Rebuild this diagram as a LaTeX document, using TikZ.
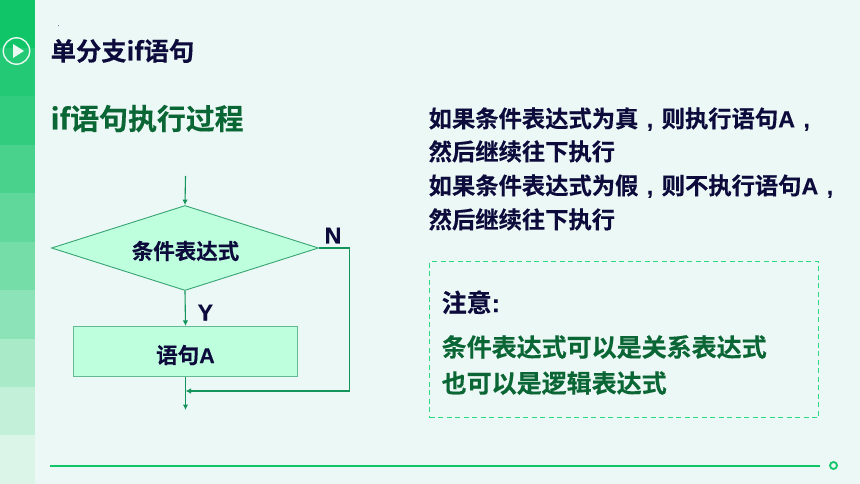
\documentclass[tikz,border=0pt]{standalone}
\usepackage{fontspec}
\setmainfont{Noto Sans CJK SC}[BoldFont={* Bold},BoldFeatures={FakeBold=0.25}]
\newfontfamily\lat{Liberation Sans Bold}[FakeBold=0.15]
\usetikzlibrary{shapes.geometric,arrows.meta}
\definecolor{bgc}{HTML}{ECF8F5}
\definecolor{navy}{HTML}{0D0A3C}
\definecolor{dgreen}{HTML}{0B6635}
\definecolor{lnc}{HTML}{12945A}
\definecolor{fillc}{HTML}{BEFFDE}
\definecolor{barc}{HTML}{10C468}
\definecolor{dashc}{HTML}{2BD97F}
\tikzset{
 txt/.style={anchor=base west,inner sep=0pt,font=\bfseries},
 flow/.style={draw=lnc,line width=1.1pt,-{Latex[length=5.5pt,width=5.5pt]}},
}
\newcommand{\fs}[1]{\fontsize{#1pt}{#1pt}\selectfont}
\newcommand{\cm}{\makebox[1em]{\lat ,}}
\begin{document}
\begin{tikzpicture}[x=1pt,y=-1pt]
\useasboundingbox (0,0) rectangle (860,484);
\fill[bgc] (0,0) rectangle (860,484);
% side bands
\fill[barc!100!white] (0,0) rectangle (35,48);
\fill[barc!92!white] (0,48) rectangle (35,96);
\fill[barc!86!white] (0,96) rectangle (35,145);
\fill[barc!76!white] (0,145) rectangle (35,193);
\fill[barc!66!white] (0,193) rectangle (35,242);
\fill[barc!58!white] (0,242) rectangle (35,290);
\fill[barc!48!white] (0,290) rectangle (35,339);
\fill[barc!36!white] (0,339) rectangle (35,387);
\fill[barc!25!white] (0,387) rectangle (35,435);
\fill[barc!15!white] (0,435) rectangle (35,484);
% play icon
\draw[white!90!barc,line width=1.4pt] (16.5,51) circle (13.2);
\fill[white!90!barc] (13,44) -- (24,51) -- (13,58) -- cycle;
% titles
\node[txt,text=navy] (dot) at (58,26) {\fontsize{3pt}{3pt}\selectfont .};
\node[txt,text=navy] (title) at (50.5,60.5) {\fs{25.3}单分支if语句};
\node[txt,text=dgreen] (head) at (50.5,129.5) {\fs{28.9}if语句执行过程};
% right text
\node[txt,text=navy] (r1) at (428.5,127.3) {\fs{23.3}如果条件表达式为真\cm 则执行语句{\lat A}\cm};
\node[txt,text=navy] (r2) at (428.5,160.3) {\fs{23.3}然后继续往下执行};
\node[txt,text=navy] (r3) at (428.5,194.3) {\fs{23.3}如果条件表达式为假\cm 则不执行语句{\lat A}\cm};
\node[txt,text=navy] (r4) at (428.5,228.3) {\fs{23.3}然后继续往下执行};
% note box
\node[draw=dashc,line width=1.4pt,dash pattern=on 5pt off 3.5pt,minimum width=389pt,minimum height=156pt,inner sep=0pt] (note) at (624,339.5) {};
\node[txt,text=navy] (n1) at (441.5,312) {\fs{25}注意{\lat :}};
\node[txt,text=dgreen] (n2) at (441.5,356.5) {\fs{25}条件表达式可以是关系表达式};
\node[txt,text=dgreen] (n3) at (441.5,392.5) {\fs{25}也可以是逻辑表达式};
% flowchart
\coordinate (start) at (185.5,176);
\node[diamond,draw=lnc!85!white,fill=fillc,line width=.9pt,aspect=3.16,inner sep=0pt,minimum width=267pt,minimum height=85pt] (cond) at (185,248) {};
\node[txt,text=navy,anchor=center] (ctxt) at (185.5,251) {\fs{21.5}条件表达式};
\node[draw=lnc!65!white,fill=fillc,line width=1.1pt,minimum width=224pt,minimum height=50pt,inner sep=0pt] (stmt) at (185.5,351.5) {};
\node[txt,text=navy,anchor=center] (stmtlab) at (185.5,355) {\fs{21.5}语句{\lat A}};
\coordinate (join) at (185.5,391);
\coordinate (endp) at (185.5,410);
\coordinate (corner1) at (349.5,248);
\coordinate (corner2) at (349.5,391);
\draw[flow] (start) -- (cond.north);
\draw[flow] (cond.south) -- (stmt.north);
\draw[flow] (stmt.south) -- (endp);
\draw[flow] (cond.east) -- (corner1) -- (corner2) -- (join);
\node[txt,text=navy] (nlab) at (324.5,243.5) {\fs{23}\lat N};
\node[txt,text=navy] (ylab) at (197.5,320.5) {\fs{23}\lat Y};
% bottom rule
\coordinate (rule1) at (50,465.5);
\coordinate (rule2) at (820,465.5);
\draw[barc,line width=2pt] (rule1) -- (rule2);
\node[circle,draw=barc,line width=1.8pt,minimum size=7pt,inner sep=0pt] (ring) at (833.5,465.5) {};
\end{tikzpicture}
\end{document}
